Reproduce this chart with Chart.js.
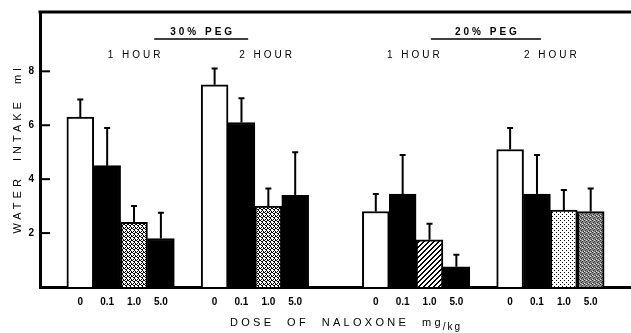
<!DOCTYPE html>
<html>
<head>
<meta charset="utf-8">
<script src="https://cdn.jsdelivr.net/npm/chart.js@4"></script>
<style>
  html, body { margin: 0; padding: 0; background: #fff; }
  #wrap { width: 631px; height: 333px; }
</style>
</head>
<body>
<div id="wrap"><canvas id="chartCanvas" width="631" height="333"></canvas></div>
<script>
// naloxone doses (x tick labels within each group)
const doseLabels = ['0', '0.1', '1.0', '5.0'];

// mean water intake (ml) per group, one value per dose
const peg30Hour1 = [6.3, 4.5, 2.4, 1.8];
const peg30Hour2 = [7.5, 6.1, 3.0, 3.4];
const peg20Hour1 = [2.8, 3.45, 1.75, 0.75];
const peg20Hour2 = [5.1, 3.45, 2.85, 2.8];

// standard error (upward error bars)
const peg30Hour1Err = [0.65, 1.4, 0.6, 0.95];
const peg30Hour2Err = [0.6, 0.9, 0.65, 1.6];
const peg20Hour1Err = [0.65, 1.45, 0.6, 0.45];
const peg20Hour2Err = [0.8, 1.45, 0.75, 0.85];

const yTicks = [2, 4, 6, 8];

// fill style per dose in each group
const peg30Fills = ['open', 'solid', 'cross', 'solid'];
const peg20Hour1Fills = ['open', 'solid', 'hatch', 'solid'];
const peg20Hour2Fills = ['open', 'solid', 'dots', 'grey'];

function makePattern(kind) {
    const c = document.createElement('canvas');
    const g = c.getContext('2d');
    if (kind === 'cross') {
        c.width = 4; c.height = 4;
        g.fillStyle = '#fff'; g.fillRect(0, 0, 4, 4);
        g.fillStyle = '#000';
        g.fillRect(0, 0, 1, 1); g.fillRect(1, 1, 1, 1); g.fillRect(2, 2, 1, 1); g.fillRect(3, 3, 1, 1);
        g.fillRect(3, 0, 1, 1); g.fillRect(1, 3, 1, 1); g.fillRect(2, 1, 1, 1);
    } else if (kind === 'hatch') {
        c.width = 5; c.height = 5;
        g.fillStyle = '#fff'; g.fillRect(0, 0, 5, 5);
        g.fillStyle = '#000';
        for (let i = 0; i < 5; i++) { g.fillRect(4 - i, i, 1, 1); g.fillRect((5 - i) % 5, i, 1, 1); }
    } else if (kind === 'dots') {
        c.width = 4; c.height = 4;
        g.fillStyle = '#fff'; g.fillRect(0, 0, 4, 4);
        g.fillStyle = '#000';
        g.fillRect(0, 0, 1, 1); g.fillRect(2, 2, 1, 1);
    } else if (kind === 'grey') {
        c.width = 4; c.height = 4;
        g.fillStyle = '#8a8a8a'; g.fillRect(0, 0, 4, 4);
        g.fillStyle = '#333';
        g.fillRect(0, 0, 1, 1); g.fillRect(2, 1, 1, 1); g.fillRect(1, 2, 1, 1); g.fillRect(3, 3, 1, 1);
        g.fillStyle = '#ddd';
        g.fillRect(2, 0, 1, 1); g.fillRect(0, 3, 1, 1);
    }
    return g.createPattern(c, 'repeat');
}

function fillFor(kind) {
    if (kind === 'open') return '#fff';
    if (kind === 'solid') return '#000';
    return makePattern(kind);
}

// build the slot layout: gaps are empty categories
const groups = [
    { vals: peg30Hour1, errs: peg30Hour1Err, fills: peg30Fills, gapBefore: 1 },
    { vals: peg30Hour2, errs: peg30Hour2Err, fills: peg30Fills, gapBefore: 1 },
    { vals: peg20Hour1, errs: peg20Hour1Err, fills: peg20Hour1Fills, gapBefore: 2 },
    { vals: peg20Hour2, errs: peg20Hour2Err, fills: peg20Hour2Fills, gapBefore: 1 }
];
const labels = [], values = [], errors = [], colors = [];
groups.forEach(grp => {
    for (let i = 0; i < grp.gapBefore; i++) { labels.push(''); values.push(null); errors.push(null); colors.push('#fff'); }
    grp.vals.forEach((v, i) => {
        labels.push(doseLabels[i]);
        values.push(v);
        errors.push(grp.errs[i]);
        colors.push(fillFor(grp.fills[i]));
    });
});
labels.push(''); values.push(null); errors.push(null); colors.push('#fff');

const FONT = '"Liberation Sans", Arial, sans-serif';

const decorPlugin = {
    id: 'decor',
    afterDatasetsDraw(chart) {
        const ctx = chart.ctx;
        const x = chart.scales.x, y = chart.scales.y;
        const area = chart.chartArea;
        ctx.save();
        // error bars
        ctx.strokeStyle = '#000';
        ctx.lineWidth = 2;
        chart.getDatasetMeta(0).data.forEach((bar, i) => {
            if (values[i] == null) return;
            const top = y.getPixelForValue(values[i] + errors[i]);
            ctx.beginPath();
            ctx.moveTo(bar.x, bar.y);
            ctx.lineTo(bar.x, top);
            ctx.moveTo(bar.x - 3, top);
            ctx.lineTo(bar.x + 3, top);
            ctx.stroke();
        });
        // inward y tick marks
        yTicks.forEach(t => {
            const py = y.getPixelForValue(t);
            ctx.beginPath();
            ctx.moveTo(area.left, py);
            ctx.lineTo(area.left + 10, py);
            ctx.stroke();
        });
        // top frame line
        ctx.lineWidth = 3;
        ctx.beginPath();
        ctx.moveTo(area.left - 1.5, area.top);
        ctx.lineTo(area.right, area.top);
        ctx.stroke();

        ctx.fillStyle = '#000';
        ctx.textBaseline = 'middle';
        ctx.textAlign = 'center';
        // group headers
        const heads = [
            { text: '30% PEG', slot: 5.5, y: 32, line: 47, bold: true },
            { text: '20% PEG', slot: 16.1, y: 32, line: 55, bold: true },
            { text: '1 HOUR', slot: 3.0, y: 55 },
            { text: '2 HOUR', slot: 7.9, y: 55 },
            { text: '1 HOUR', slot: 13.4, y: 55 },
            { text: '2 HOUR', slot: 18.5, y: 55 }
        ];
        heads.forEach(h => {
            const px = x.getPixelForValue(h.slot);
            ctx.font = (h.bold ? 'bold ' : '') + '10px ' + FONT;
            ctx.letterSpacing = '3px';
            ctx.fillText(h.text, px + 1.5, h.y);
            if (h.line) {
                ctx.lineWidth = 1.5;
                ctx.beginPath();
                ctx.moveTo(px - h.line, h.y + 7);
                ctx.lineTo(px + h.line, h.y + 7);
                ctx.stroke();
            }
        });
        // y axis title
        ctx.save();
        ctx.translate(18, 151);
        ctx.rotate(-Math.PI / 2);
        ctx.font = '11px ' + FONT;
        ctx.letterSpacing = '4px';
        ctx.fillText('WATER  INTAKE  ml', 2, 0);
        ctx.restore();
        // x axis title
        ctx.textAlign = 'left';
        ctx.font = '11px ' + FONT;
        ctx.letterSpacing = '3.3px';
        const xt = 'DOSE  OF  NALOXONE  mg';
        ctx.fillText(xt, 230, 323);
        const w = ctx.measureText(xt).width;
        ctx.font = '10px ' + FONT;
        ctx.letterSpacing = '2px';
        ctx.fillText('/kg', 230 + w - 1, 327);
        ctx.restore();
    }
};

new Chart(document.getElementById('chartCanvas').getContext('2d'), {
    type: 'bar',
    data: {
        labels: labels,
        datasets: [{
            data: values,
            backgroundColor: colors,
            borderColor: '#000',
            borderWidth: 2,
            barPercentage: 1,
            categoryPercentage: 1
        }]
    },
    options: {
        responsive: false,
        animation: false,
        layout: { padding: { top: 10, right: 0, left: 0, bottom: 0 } },
        plugins: { legend: { display: false }, tooltip: { enabled: false } },
        scales: {
            x: {
                grid: { display: false, drawTicks: false },
                border: { display: true, width: 3, color: '#000' },
                ticks: {
                    autoSkip: false, maxRotation: 0, padding: 9,
                    color: '#000', font: { family: FONT, size: 10, weight: 'bold' }
                },
                afterFit(scale) { scale.height = 46; }
            },
            y: {
                min: 0, max: 10.2,
                afterBuildTicks(scale) { scale.ticks = yTicks.map(v => ({ value: v })); },
                grid: { display: false, drawTicks: false },
                border: { display: true, width: 3, color: '#000' },
                ticks: {
                    padding: 6, color: '#000',
                    font: { family: FONT, size: 10, weight: 'bold' }
                },
                afterFit(scale) { scale.width = 40; }
            }
        }
    },
    plugins: [decorPlugin]
});
</script>
</body>
</html>
